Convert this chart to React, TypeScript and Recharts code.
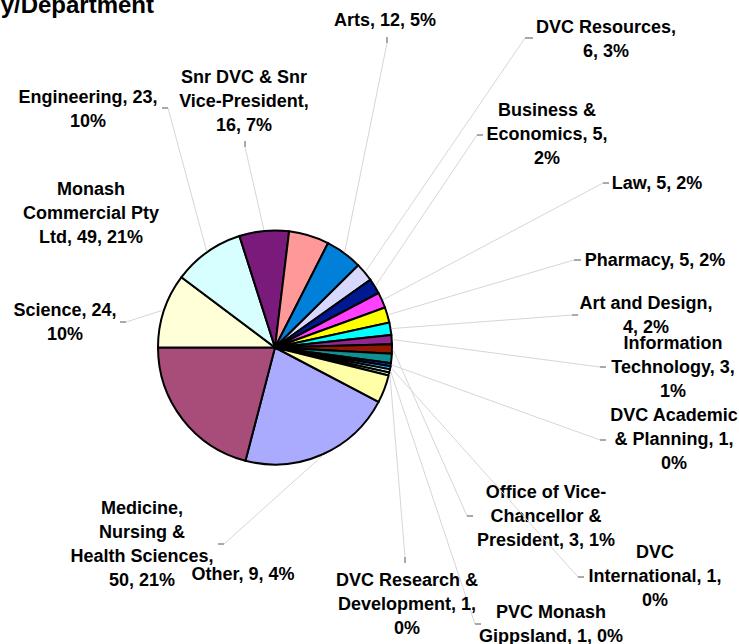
import { PieChart, Pie, Cell } from "recharts";

// slices in clockwise order, starting at the lower-right
const names = [
  "Medicine, Nursing & Health Sciences",
  "Monash Commercial Pty Ltd",
  "Science",
  "Engineering",
  "Snr DVC & Snr Vice-President",
  "Unlabelled A",
  "Arts",
  "DVC Resources",
  "Business & Economics",
  "Law",
  "Pharmacy",
  "Art and Design",
  "Information Technology",
  "Office of Vice-Chancellor & President",
  "Unlabelled B",
  "DVC Academic & Planning",
  "DVC International",
  "PVC Monash Gippsland",
  "DVC Research & Development",
  "Other",
];
const values = [50, 49, 24, 23, 16, 13, 12, 6, 5, 5, 5, 4, 3, 3, 3, 1, 1, 1, 1, 9];
const colors = [
  "#AAAAFF", "#A84C7A", "#FFFFD8", "#D8FFFF", "#7A1A7A", "#FF9999", "#0080D8",
  "#D8D8FF", "#001890", "#FF40FF", "#FFFF00", "#00FFFF", "#902890", "#901800",
  "#109090", "#1030FF", "#20D0FF", "#D8FFFF", "#D8FFD8", "#FFFFA8",
];

const data = names.map((name, i) => ({ name, value: values[i] }));

// where Excel left each data label: centre x, first row y, words per row, tick
type Spot = { x: number; y: number; lines: number[]; tick?: number[] };
const spots: Record<string, Spot> = {
  "Arts": { x: 385, y: 20, lines: [3], tick: [387, 43, 387, 37] },
  "DVC Resources": { x: 606, y: 27, lines: [2, 2], tick: [525, 38, 533, 38] },
  "Business & Economics": { x: 547, y: 110, lines: [2, 2, 1], tick: [477, 135, 483, 135] },
  "Law": { x: 657, y: 183, lines: [3], tick: [603, 183, 609, 183] },
  "Pharmacy": { x: 655, y: 260, lines: [3], tick: [574, 260, 581, 260] },
  "Art and Design": { x: 646, y: 303, lines: [3, 2], tick: [572, 315, 578, 315] },
  "Information Technology": { x: 673, y: 343, lines: [1, 2, 1], tick: [600, 367, 606, 367] },
  "DVC Academic & Planning": { x: 674, y: 415, lines: [2, 3, 1], tick: [600, 440, 606, 440] },
  "Office of Vice-Chancellor & President": { x: 546, y: 492, lines: [3, 2, 3], tick: [467, 516, 473, 516] },
  "DVC International": { x: 655, y: 552, lines: [1, 2, 1], tick: [578, 577, 584, 577] },
  "PVC Monash Gippsland": { x: 551, y: 612, lines: [2, 3], tick: [475, 624, 481, 624] },
  "DVC Research & Development": { x: 407, y: 580, lines: [3, 2, 1], tick: [405, 557, 405, 563] },
  "Other": { x: 243, y: 574, lines: [3] },
  "Medicine, Nursing & Health Sciences": { x: 142, y: 508, lines: [1, 2, 2, 2], tick: [224, 544, 218, 544] },
  "Science": { x: 65, y: 310, lines: [2, 1], tick: [126, 322, 120, 322] },
  "Monash Commercial Pty Ltd": { x: 91, y: 189, lines: [1, 2, 3] },
  "Engineering": { x: 88, y: 97, lines: [2, 1], tick: [168, 108, 162, 108] },
  "Snr DVC & Snr Vice-President": { x: 244, y: 77, lines: [4, 2, 2], tick: [245, 147, 245, 141] },
};

const FONT = '"Liberation Sans", Arial, sans-serif';
const RAD = Math.PI / 180;

function tokens(s: string) {
  const out: string[] = [];
  s.split(" ").forEach((w) => {
    const i = w.indexOf("-");
    if (i > 0 && i < w.length - 1) {
      out.push(w.slice(0, i + 1));
      out.push(w.slice(i + 1));
    } else out.push(w);
  });
  return out;
}

function wrap(s: string, counts: number[]) {
  const t = tokens(s);
  const rows: string[] = [];
  let k = 0;
  counts.forEach((n) => {
    let row = "";
    for (let j = 0; j < n && k < t.length; j++, k++) {
      row += row === "" || row.endsWith("-") ? t[k] : " " + t[k];
    }
    rows.push(row);
  });
  return rows;
}

function renderLabel(props: any) {
  const { cx, cy, midAngle, outerRadius, percent, index } = props;
  const name = names[index];
  const s = spots[name];
  if (!s) return <g key={"lbl-" + index} />;
  const text = `${name}, ${values[index]}, ${Math.round(percent * 100)}%`;
  const rows = wrap(text, s.lines);
  let leader = null;
  if (s.tick) {
    const [x1, y1, x2, y2] = s.tick;
    const ex = cx + (outerRadius + 1) * Math.cos(-midAngle * RAD);
    const ey = cy + (outerRadius + 1) * Math.sin(-midAngle * RAD);
    leader = (
      <g>
        <line x1={x1} y1={y1} x2={ex} y2={ey} stroke="#d6d6d6" strokeWidth={1} />
        <line x1={x1} y1={y1} x2={x2} y2={y2} stroke="#555" strokeWidth={1} />
      </g>
    );
  }
  return (
    <g key={"lbl-" + index}>
      {leader}
      {rows.map((r, i) => (
        <text
          key={i}
          x={s.x}
          y={s.y + i * 24}
          textAnchor="middle"
          dominantBaseline="central"
          fontFamily={FONT}
          fontWeight="bold"
          fontSize={18}
          fill="#000"
        >
          {r}
        </text>
      ))}
    </g>
  );
}

export default function App() {
  return (
    <div
      style={{
        position: "absolute",
        left: 0,
        top: 0,
        width: 739,
        height: 644,
        background: "#fff",
        overflow: "hidden",
      }}
    >
      <div
        style={{
          position: "absolute",
          left: -200,
          top: -7,
          width: 354,
          textAlign: "right",
          fontFamily: FONT,
          fontWeight: "bold",
          fontSize: 24,
          lineHeight: "24px",
          whiteSpace: "nowrap",
        }}
      >
        y/Department
      </div>
      <PieChart width={739} height={644} margin={{ top: 0, right: 0, bottom: 0, left: 0 }}>
        <Pie
          data={data}
          dataKey="value"
          nameKey="name"
          cx={275}
          cy={347.5}
          outerRadius={117}
          startAngle={-27.7}
          endAngle={-387.7}
          stroke="#000"
          strokeWidth={2}
          labelLine={false}
          label={renderLabel}
          isAnimationActive={false}
        >
          {data.map((d, i) => (
            <Cell key={d.name} fill={colors[i]} />
          ))}
        </Pie>
      </PieChart>
    </div>
  );
}
